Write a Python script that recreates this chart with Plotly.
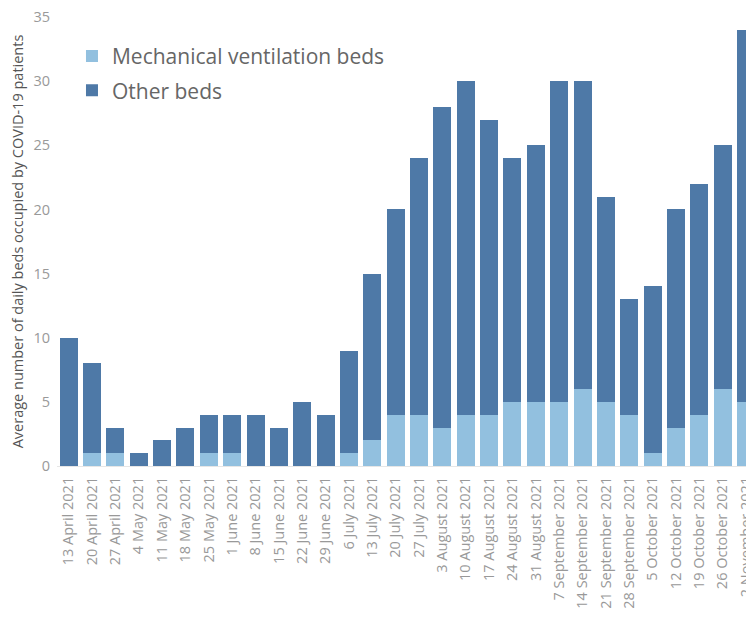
import plotly.graph_objects as go

weeks = ["13 April 2021", "20 April 2021", "27 April 2021", "4 May 2021", "11 May 2021",
         "18 May 2021", "25 May 2021", "1 June 2021", "8 June 2021", "15 June 2021",
         "22 June 2021", "29 June 2021", "6 July 2021", "13 July 2021", "20 July 2021",
         "27 July 2021", "3 August 2021", "10 August 2021", "17 August 2021", "24 August 2021",
         "31 August 2021", "7 September 2021", "14 September 2021", "21 September 2021",
         "28 September 2021", "5 October 2021", "12 October 2021", "19 October 2021",
         "26 October 2021", "2 November 2021"]
ventilation_beds = [0, 1, 1, 0, 0, 0, 1, 1, 0, 0, 0, 0, 1, 2, 4, 4, 3, 4, 4, 5,
                    5, 5, 6, 5, 4, 1, 3, 4, 6, 5]
other_beds = [10, 7, 2, 1, 2, 3, 3, 3, 4, 3, 5, 4, 8, 13, 16, 20, 25, 26, 23, 19,
              20, 25, 24, 16, 9, 13, 17, 18, 19, 29]
y_ticks = [0, 5, 10, 15, 20, 25, 30, 35]

FONT = "Open Sans"

fig = go.Figure()
fig.add_trace(go.Bar(x=weeks, y=ventilation_beds, name="Mechanical ventilation beds",
                     legendgroup="a",
                     marker=dict(color="#92c0df", line=dict(width=0))))
fig.add_trace(go.Bar(x=weeks, y=other_beds, name="Other beds",
                     legendgroup="b",
                     marker=dict(color="#4e79a7", line=dict(width=0))))

# the page body has an 8px margin, so the figure is sized/offset to compensate
fig.update_layout(
    barmode="stack",
    bargap=0.23,
    width=746, height=610,
    margin=dict(l=49, r=0, t=9, b=152),
    plot_bgcolor="white", paper_bgcolor="white",
    font=dict(family=FONT, color="#888888"),
    legend=dict(x=0.0215, y=0.958, xanchor="left", yanchor="top",
                font=dict(size=21, color="#666666"), bgcolor="rgba(0,0,0,0)",
                traceorder="grouped", tracegroupgap=4, itemsizing="constant"),
    xaxis=dict(type="category", range=[-0.5, 29.34], tickangle=-90, automargin=False,
               tickfont=dict(size=14.5, color="#999999", family=FONT),
               showgrid=False, showline=True, linecolor="#e6e6e6", linewidth=1,
               ticks="", ticklabelstandoff=4, ticklabeloverflow="allow"),
    yaxis=dict(range=[0, 35], tickvals=y_ticks, showgrid=False, zeroline=False,
               automargin=False,
               tickfont=dict(size=14.5, color="#999999", family=FONT),
               ticks="", ticklabelstandoff=6, ticklabeloverflow="allow",
               title=dict(text="Average number of daily beds occupied by COVID-19 patients",
                          font=dict(size=14.5, color="#555555", family=FONT), standoff=6)),
)

fig.write_html("out.html")
